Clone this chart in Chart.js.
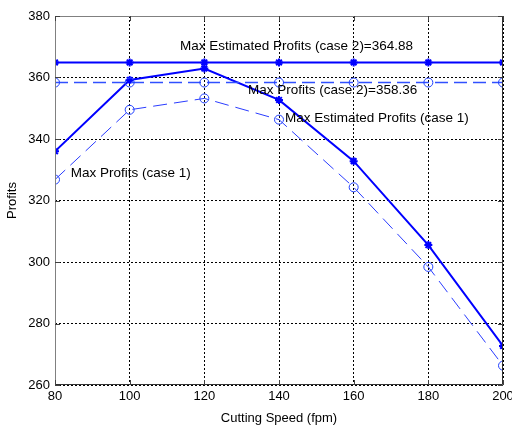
<!DOCTYPE html>
<html>
<head>
<meta charset="utf-8">
<script src="https://cdn.jsdelivr.net/npm/chart.js@4.4.1/dist/chart.umd.min.js"></script>
<style>
  html, body { margin: 0; padding: 0; background: #fff; }
  #wrap { width: 512px; height: 426px; position: relative; }
</style>
</head>
<body>
<div id="wrap"><canvas id="profits-chart" width="512" height="426"></canvas></div>
<script>
// cutting speeds (fpm)
var speeds = [80, 100, 120, 140, 160, 180, 200];

// series
var estProfitsCase1 = [336.0, 359.2, 362.9, 352.7, 332.8, 305.5, 272.7];
var profitsCase1    = [326.8, 349.5, 353.2, 346.3, 324.3, 298.4, 266.3];
var maxEstCase2 = 364.88;
var maxProfitsCase2 = 358.36;

var xTicks = [80, 100, 120, 140, 160, 180, 200];
var yTicks = [260, 280, 300, 320, 340, 360, 380];

// text notes, anchored in data units (left / middle)
var noteText = ["Max Estimated Profits (case 2)=" + maxEstCase2,
                "Max Profits (case 2)=" + maxProfitsCase2,
                "Max Estimated Profits (case 1)",
                "Max Profits (case 1)"];
var noteX = [113.5, 131.7, 141.6, 84.2];
var noteY = [370, 356, 346.9, 329];

var FONT = "Liberation Sans, Arial, sans-serif";

function toPoints(ys) {
    return speeds.map(function (s, i) { return { x: s, y: ys[i] }; });
}
function flat(v) {
    return speeds.map(function (s) { return { x: s, y: v }; });
}

/*--------------------------------
    box, inner ticks and notes
----------------------------------*/
var matlabAxes = {
    id: 'matlabAxes',
    afterDatasetsDraw: function (chart) {
        var ctx = chart.ctx, a = chart.chartArea;
        var xs = chart.scales.x, ys = chart.scales.y;
        ctx.save();
        ctx.lineWidth = 1;
        ctx.strokeStyle = '#808080';
        ctx.beginPath();
        ctx.moveTo(a.left + 0.5, a.bottom);
        ctx.lineTo(a.left + 0.5, a.top + 0.5);
        ctx.lineTo(a.right, a.top + 0.5);
        ctx.stroke();
        ctx.strokeStyle = '#303030';
        ctx.beginPath();
        ctx.moveTo(a.right - 0.5, a.top);
        ctx.lineTo(a.right - 0.5, a.bottom - 0.5);
        ctx.lineTo(a.left, a.bottom - 0.5);
        ctx.stroke();

        ctx.strokeStyle = '#404040';
        ctx.beginPath();
        xTicks.forEach(function (t) {
            var px = Math.round(xs.getPixelForValue(t)) + 0.5;
            ctx.moveTo(px, a.bottom); ctx.lineTo(px, a.bottom - 5);
            ctx.moveTo(px, a.top); ctx.lineTo(px, a.top + 5);
        });
        yTicks.forEach(function (t) {
            var py = Math.round(ys.getPixelForValue(t)) + 0.5;
            ctx.moveTo(a.left, py); ctx.lineTo(a.left + 5, py);
            ctx.moveTo(a.right, py); ctx.lineTo(a.right - 5, py);
        });
        ctx.stroke();

        ctx.fillStyle = '#000';
        ctx.font = '13.5px ' + FONT;
        ctx.textAlign = 'left';
        ctx.textBaseline = 'middle';
        noteText.forEach(function (txt, i) {
            ctx.fillText(txt, xs.getPixelForValue(noteX[i]), ys.getPixelForValue(noteY[i]));
        });
        ctx.restore();
    }
};

var chartData = {
    datasets: [
        {
            label: 'Max Estimated Profits (case 2)',
            data: flat(maxEstCase2),
            borderColor: '#0000ff',
            borderWidth: 2,
            pointStyle: 'star',
            pointRadius: 4,
            pointBorderWidth: 2,
            pointBorderColor: '#0000ff',
            pointBackgroundColor: '#0000ff'
        },
        {
            label: 'Max Profits (case 2)',
            data: flat(maxProfitsCase2),
            borderColor: '#3050ff',
            borderWidth: 1.6,
            borderDash: [13, 6],
            pointStyle: 'circle',
            pointRadius: 4.5,
            pointBorderWidth: 1,
            pointBorderColor: '#2040ff',
            pointBackgroundColor: 'rgba(0,0,0,0)'
        },
        {
            label: 'Estimated Profits (case 1)',
            data: toPoints(estProfitsCase1),
            borderColor: '#0000ff',
            borderWidth: 2,
            pointStyle: 'star',
            pointRadius: 4,
            pointBorderWidth: 2,
            pointBorderColor: '#0000ff',
            pointBackgroundColor: '#0000ff'
        },
        {
            label: 'Profits (case 1)',
            data: toPoints(profitsCase1),
            borderColor: '#2a3cff',
            borderWidth: 1,
            borderDash: [14, 7],
            pointStyle: 'circle',
            pointRadius: 4.5,
            pointBorderWidth: 1,
            pointBorderColor: '#2040ff',
            pointBackgroundColor: 'rgba(0,0,0,0)'
        }
    ]
};

var chartOptions = {
    responsive: false,
    animation: false,
    layout: { padding: { left: 0, top: 16, right: 9, bottom: 0 } },
    plugins: { legend: { display: false }, tooltip: { enabled: false } },
    elements: { line: { tension: 0, fill: false } },
    scales: {
        x: {
            type: 'linear',
            min: 80, max: 200,
            afterBuildTicks: function (s) { s.ticks = xTicks.map(function (v) { return { value: v }; }); },
            afterFit: function (s) { s.height = 41; s.paddingLeft = 0; s.paddingRight = 0; },
            ticks: { color: '#000', font: { family: FONT, size: 13 }, padding: 4, maxRotation: 0 },
            grid: { color: '#000', lineWidth: 1, drawTicks: false },
            border: { display: false, dash: [2, 2] },
            title: { display: true, text: 'Cutting Speed (fpm)', color: '#000',
                     font: { family: FONT, size: 13 }, padding: { top: 2, bottom: 0 } }
        },
        y: {
            type: 'linear',
            min: 260, max: 380,
            afterBuildTicks: function (s) { s.ticks = yTicks.map(function (v) { return { value: v }; }); },
            afterFit: function (s) { s.width = 55; s.paddingTop = 0; s.paddingBottom = 0; },
            ticks: { color: '#000', font: { family: FONT, size: 13 }, padding: 5 },
            grid: { color: '#000', lineWidth: 1, drawTicks: false },
            border: { display: false, dash: [2, 2] },
            title: { display: true, text: 'Profits', color: '#000',
                     font: { family: FONT, size: 13 }, padding: { top: 5, bottom: 0 } }
        }
    }
};

var profitsChart = new Chart(document.getElementById('profits-chart'), {
    type: 'line',
    data: chartData,
    options: chartOptions,
    plugins: [matlabAxes]
});
</script>
</body>
</html>
